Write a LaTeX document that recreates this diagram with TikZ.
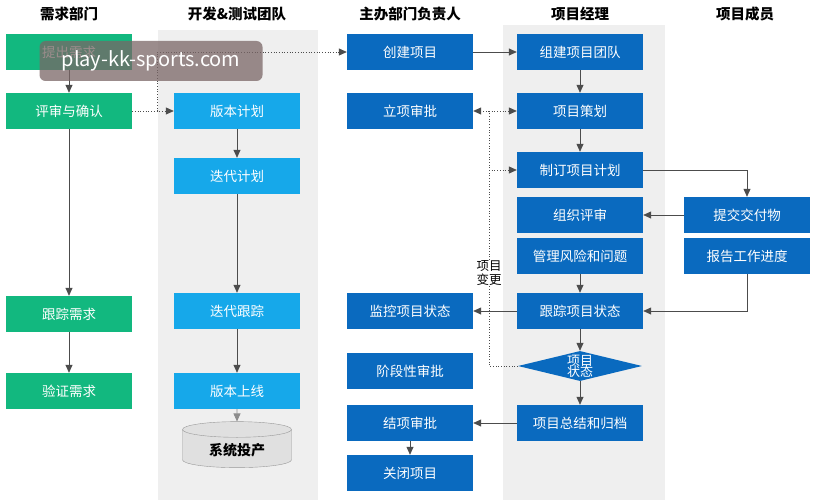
\documentclass[tikz,border=0pt]{standalone}
\usepackage{fontspec}
\setmainfont{Noto Sans CJK SC}
\usetikzlibrary{shapes.geometric,arrows.meta}
\definecolor{gr}{HTML}{12B87F}
\definecolor{lb}{HTML}{16A8EA}
\definecolor{db}{HTML}{0A6ABF}
\definecolor{pan}{HTML}{EFEFEF}
\begin{document}
\begin{tikzpicture}[x=1pt,y=-1pt,
 box/.style={minimum width=126pt,minimum height=36pt,inner sep=0pt,text=white,font=\fontsize{13.5}{13.5}\selectfont},
 g/.style={box,fill=gr}, l/.style={box,fill=lb}, d/.style={box,fill=db},
 hd/.style={font=\bfseries\fontsize{14.5}{14.5}\selectfont},
 ar/.style={-{Triangle[length=8pt,width=7pt]},draw=black!70,line width=0.7pt},
 dt/.style={ar,dotted,line width=0.8pt}]
\useasboundingbox (0,0) rectangle (819,500);
\fill[white] (0,0) rectangle (819,500);
\fill[pan] (158,30) rectangle (318,500);
\fill[pan] (503,25) rectangle (665,500);
\node[hd] at (69,14) {需求部门};
\node[hd] at (237,14) {开发\&测试团队};
\node[hd] at (410,14) {主办部门负责人};
\node[hd] at (580,14) {项目经理};
\node[hd] at (745,14) {项目成员};
% col1
\node[g] (a1) at (69,52) {提出需求};
\node[g] (a2) at (69,111) {评审与确认};
\node[g] (a3) at (69,314) {跟踪需求};
\node[g] (a4) at (69,391) {验证需求};
% col2
\node[l] (b1) at (237,111) {版本计划};
\node[l] (b2) at (237,176) {迭代计划};
\node[l] (b3) at (237,311) {迭代跟踪};
\node[l] (b4) at (237,391) {版本上线};
\node[cylinder,shape border rotate=90,aspect=0.25,draw=black!40,fill=black!12,minimum width=109pt,minimum height=46pt,font=\bfseries\fontsize{14}{14}\selectfont] (b5) at (237,450) {系统投产};
% col3
\node[d] (c1) at (410,52) {创建项目};
\node[d] (c2) at (410,111) {立项审批};
\node[d] (c3) at (410,311) {监控项目状态};
\node[d] (c4) at (410,371) {阶段性审批};
\node[d] (c5) at (410,423) {结项审批};
\node[d] (c6) at (410,473) {关闭项目};
% col4
\node[d] (p1) at (580,52) {组建项目团队};
\node[d] (p2) at (580,111) {项目策划};
\node[d] (p3) at (580,170) {制订项目计划};
\node[d] (p4) at (580,215) {组织评审};
\node[d] (p5) at (580,256) {管理风险和问题};
\node[d] (p6) at (580,311) {跟踪项目状态};
\node[diamond,fill=db,text=white,aspect=4,minimum width=124pt,minimum height=30pt,inner sep=0pt,font=\fontsize{13}{13}\selectfont,align=center] (p7) at (580,366) {项目\\[-2pt]状态};
\node[d] (p8) at (580,423) {项目总结和归档};
% col5
\node[d] (m1) at (747,215) {提交交付物};
\node[d] (m2) at (747,256) {报告工作进度};
% arrows
\draw[ar] (a1) -- (a2);
\draw[ar] (a2) -- (a3);
\draw[ar] (a3) -- (a4);
\draw[dt] (a2) -- (b1);
\draw[dt] (157,111) -- (157,52) -- (c1);
\draw[ar] (b1) -- (b2);
\draw[ar] (b2) -- (b3);
\draw[ar] (b3) -- (b4);
\draw[ar,draw=black!45] (b4) -- (b5);
\draw[ar] (c1) -- (p1);
\draw[ar] (p1) -- (p2);
\draw[ar] (p2) -- (p3);
\draw[ar] (p3.east) -| (m1.north);
\draw[ar] (m1) -- (p4);
\draw[ar] (m2.south) |- (p6.east);
\draw[ar] (p5) -- (p6);
\draw[ar] (p6) -- (c3);
\draw[ar] (p6) -- (p7);
\draw[ar] (p7) -- (p8);
\draw[ar] (p8) -- (c5);
\draw[ar] (c5) -- (c6);
\coordinate (v1) at (489,366);
\coordinate (v2) at (489,111);
\draw[dt,-] (p7.west) -- (v1) -- (v2);
\draw[dt] (v2) -- (c2);
\draw[dt] (v2) -- (p2);
\draw[dt] (489,170) -- (p3);
\node[fill=white,inner sep=1pt,align=center,font=\fontsize{12.5}{13.5}\selectfont] (lb) at (489,273) {项目\\变更};
% watermark
\node[fill=black!60!red!20!gray,fill opacity=0.75,text opacity=1,rounded corners=6pt,text=white,minimum width=223pt,minimum height=40pt,font=\fontsize{20}{20}\selectfont] (wm) at (151,61) {play-kk-sports.com};
\end{tikzpicture}
\end{document}
